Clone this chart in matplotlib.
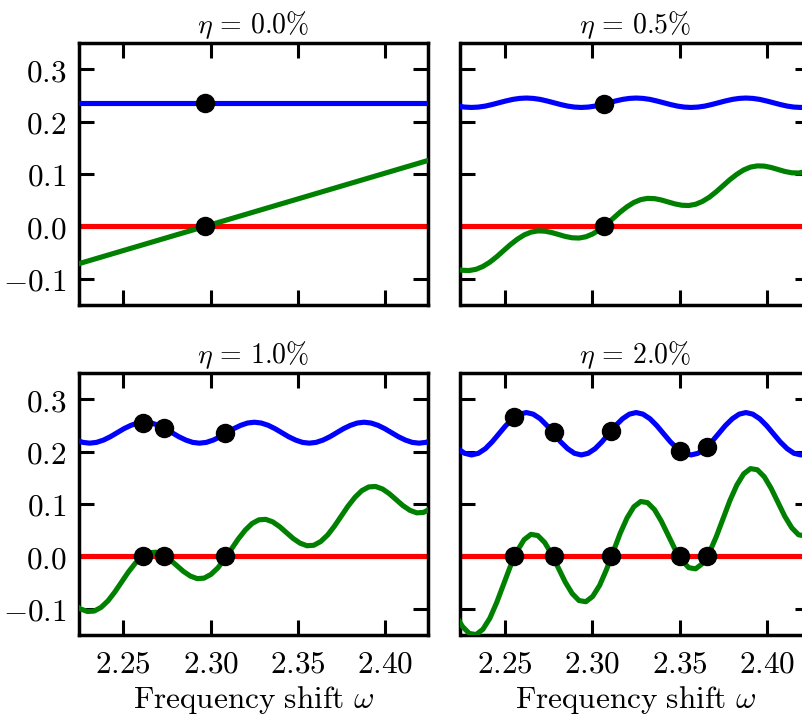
import matplotlib
matplotlib.use("Agg")
import matplotlib.pyplot as plt
from matplotlib.ticker import FuncFormatter, FixedLocator

plt.rcParams['mathtext.fontset'] = 'cm'
plt.rcParams['font.family'] = ['DejaVu Serif']

# ---------------- data ----------------
panel_titles = [r'$\eta\,=\,0.0\%$', r'$\eta\,=\,0.5\%$', r'$\eta\,=\,1.0\%$', r'$\eta\,=\,2.0\%$']
x_ticks = [2.25, 2.30, 2.35, 2.40]
y_ticks = [-0.1, 0.0, 0.1, 0.2, 0.3]
x_limits = (2.2245, 2.4245)
y_limits = (-0.15, 0.35)
x_label = r'$\mathrm{Frequency\ shift}\ \omega$'

red_level = 0.0

# eta = 0.0 %
omega_flat = [2.220, 2.430]
blue_0 = [0.236, 0.236]
green_0 = [-0.0761, 0.1315]
dots_x_0 = [2.297]
dots_blue_0 = [0.236]

# sample positions for the blue curves (eta = 0.5, 1.0, 2.0 %)
omega_blue = [2.2190, 2.2230, 2.2269, 2.2308, 2.2347, 2.2387, 2.2426, 2.2465, 2.2504, 2.2544,
              2.2583, 2.2622, 2.2661, 2.2701, 2.2740, 2.2779, 2.2818, 2.2858, 2.2897, 2.2936,
              2.2975, 2.3015, 2.3054, 2.3093, 2.3132, 2.3172, 2.3211, 2.3250, 2.3289, 2.3329,
              2.3368, 2.3407, 2.3446, 2.3486, 2.3525, 2.3564, 2.3603, 2.3643, 2.3682, 2.3721,
              2.3760, 2.3800, 2.3839, 2.3878, 2.3917, 2.3957, 2.3996, 2.4035, 2.4074, 2.4114,
              2.4153, 2.4192, 2.4231, 2.4271]

# sample positions for the green curves (eta = 0.5, 1.0, 2.0 %)
omega_green = [2.2177, 2.2216, 2.2256, 2.2295, 2.2334, 2.2373, 2.2413, 2.2452, 2.2491, 2.2530,
               2.2570, 2.2609, 2.2648, 2.2687, 2.2727, 2.2766, 2.2805, 2.2844, 2.2884, 2.2923,
               2.2962, 2.3001, 2.3041, 2.3080, 2.3119, 2.3158, 2.3198, 2.3237, 2.3276, 2.3315,
               2.3355, 2.3394, 2.3433, 2.3472, 2.3512, 2.3551, 2.3590, 2.3629, 2.3669, 2.3708,
               2.3747, 2.3786, 2.3826, 2.3865, 2.3904, 2.3943, 2.3983, 2.4022, 2.4061, 2.4100,
               2.4140, 2.4179, 2.4218, 2.4257]

# eta = 0.5 %
blue_05 = [0.2329, 0.2299, 0.2280, 0.2273, 0.2280, 0.2299, 0.2329, 0.2363, 0.2397, 0.2427,
           0.2446, 0.2453, 0.2446, 0.2427, 0.2397, 0.2363, 0.2329, 0.2299, 0.2280, 0.2273,
           0.2280, 0.2299, 0.2329, 0.2363, 0.2397, 0.2427, 0.2446, 0.2453, 0.2446, 0.2427,
           0.2397, 0.2363, 0.2329, 0.2299, 0.2280, 0.2273, 0.2280, 0.2299, 0.2329, 0.2363,
           0.2397, 0.2427, 0.2446, 0.2453, 0.2446, 0.2427, 0.2397, 0.2363, 0.2329, 0.2299,
           0.2280, 0.2273, 0.2280, 0.2299]
green_05 = [-0.0778, -0.0816, -0.0842, -0.0846, -0.0823, -0.0769, -0.0686, -0.0583, -0.0467, -0.0352,
            -0.0248, -0.0166, -0.0112, -0.0088, -0.0093, -0.0119, -0.0156, -0.0194, -0.0220, -0.0225,
            -0.0201, -0.0147, -0.0065, 0.0039, 0.0154, 0.0270, 0.0374, 0.0456, 0.0510, 0.0534,
            0.0529, 0.0503, 0.0465, 0.0428, 0.0402, 0.0397, 0.0421, 0.0475, 0.0557, 0.0661,
            0.0776, 0.0892, 0.0995, 0.1078, 0.1132, 0.1155, 0.1151, 0.1125, 0.1087, 0.1049,
            0.1023, 0.1019, 0.1043, 0.1097]
dots_x_05 = [2.3067]
dots_blue_05 = [0.234]

# eta = 1.0 %
blue_10 = [0.2283, 0.2219, 0.2175, 0.2160, 0.2175, 0.2219, 0.2283, 0.2360, 0.2437, 0.2501,
           0.2545, 0.2560, 0.2545, 0.2501, 0.2437, 0.2360, 0.2283, 0.2219, 0.2175, 0.2160,
           0.2175, 0.2219, 0.2283, 0.2360, 0.2437, 0.2501, 0.2545, 0.2560, 0.2545, 0.2501,
           0.2437, 0.2360, 0.2283, 0.2219, 0.2175, 0.2160, 0.2175, 0.2219, 0.2283, 0.2360,
           0.2437, 0.2501, 0.2545, 0.2560, 0.2545, 0.2501, 0.2437, 0.2360, 0.2283, 0.2219,
           0.2175, 0.2160, 0.2175, 0.2219]
green_10 = [-0.0803, -0.0917, -0.1007, -0.1055, -0.1046, -0.0976, -0.0850, -0.0681, -0.0489, -0.0297,
            -0.0128, -0.0002, 0.0068, 0.0077, 0.0029, -0.0061, -0.0175, -0.0289, -0.0379, -0.0427,
            -0.0418, -0.0348, -0.0222, -0.0053, 0.0139, 0.0331, 0.0500, 0.0626, 0.0696, 0.0705,
            0.0657, 0.0567, 0.0453, 0.0339, 0.0249, 0.0201, 0.0210, 0.0280, 0.0406, 0.0575,
            0.0767, 0.0959, 0.1128, 0.1254, 0.1324, 0.1333, 0.1285, 0.1195, 0.1081, 0.0967,
            0.0877, 0.0829, 0.0838, 0.0908]
dots_x_10 = [2.2611, 2.2735, 2.3083]
dots_blue_10 = [0.2553, 0.2444, 0.2348]

# eta = 2.0 %
blue_20 = [0.2185, 0.2054, 0.1966, 0.1935, 0.1966, 0.2054, 0.2185, 0.2340, 0.2495, 0.2626,
           0.2714, 0.2745, 0.2714, 0.2626, 0.2495, 0.2340, 0.2185, 0.2054, 0.1966, 0.1935,
           0.1966, 0.2054, 0.2185, 0.2340, 0.2495, 0.2626, 0.2714, 0.2745, 0.2714, 0.2626,
           0.2495, 0.2340, 0.2185, 0.2054, 0.1966, 0.1935, 0.1966, 0.2054, 0.2185, 0.2340,
           0.2495, 0.2626, 0.2714, 0.2745, 0.2714, 0.2626, 0.2495, 0.2340, 0.2185, 0.2054,
           0.1966, 0.1935, 0.1966, 0.2054]
green_20 = [-0.0853, -0.1120, -0.1340, -0.1474, -0.1496, -0.1396, -0.1183, -0.0884, -0.0539, -0.0194,
            0.0105, 0.0318, 0.0418, 0.0396, 0.0262, 0.0042, -0.0225, -0.0492, -0.0712, -0.0846,
            -0.0868, -0.0768, -0.0555, -0.0256, 0.0089, 0.0434, 0.0733, 0.0946, 0.1046, 0.1024,
            0.0890, 0.0670, 0.0403, 0.0136, -0.0084, -0.0218, -0.0240, -0.0140, 0.0073, 0.0372,
            0.0717, 0.1062, 0.1361, 0.1574, 0.1674, 0.1652, 0.1518, 0.1298, 0.1031, 0.0764,
            0.0544, 0.0410, 0.0388, 0.0488]
dots_x_20 = [2.2552, 2.2778, 2.3104, 2.3499, 2.3653]
dots_blue_20 = [0.2668, 0.2368, 0.2400, 0.2017, 0.2080]

panels = [
    (omega_flat, blue_0, omega_flat, green_0, dots_x_0, dots_blue_0),
    (omega_blue, blue_05, omega_green, green_05, dots_x_05, dots_blue_05),
    (omega_blue, blue_10, omega_green, green_10, dots_x_10, dots_blue_10),
    (omega_blue, blue_20, omega_green, green_20, dots_x_20, dots_blue_20),
]

# ---------------- figure ----------------
W, H = 803, 717
fig = plt.figure(figsize=(W / 100, H / 100), dpi=100)

def box(x0, y0, x1, y1):
    return [x0 / W, 1 - y1 / H, (x1 - x0) / W, (y1 - y0) / H]

positions = [box(78.7, 43.3, 428.3, 304.7), box(460.5, 43.3, 810.1, 304.7),
             box(78.7, 373.0, 428.3, 634.8), box(460.5, 373.0, 810.1, 634.8)]

LW = 3.7
FS = 22.5
FS_TITLE = 20
for i, (pos, title, data) in enumerate(zip(positions, panel_titles, panels)):
    ax = fig.add_axes(pos)
    xb, yb, xg, yg, dx, dy = data
    ax.axhline(red_level, color='#ff0000', lw=LW, zorder=2)
    ax.plot(xb, yb, color='#0000ff', lw=LW, zorder=3)
    ax.plot(xg, yg, color='#008000', lw=LW, zorder=4)
    ax.plot(dx, dy, 'o', color='black', ms=13, zorder=5)
    ax.plot(dx, [red_level] * len(dx), 'o', color='black', ms=13, zorder=5)
    ax.set_xlim(*x_limits)
    ax.set_ylim(*y_limits)
    ax.xaxis.set_major_locator(FixedLocator(x_ticks))
    ax.yaxis.set_major_locator(FixedLocator(y_ticks))
    ax.xaxis.set_major_formatter(FuncFormatter(lambda v, p: r'$%.2f$' % v))
    ax.yaxis.set_major_formatter(FuncFormatter(lambda v, p: r'$%.1f$' % v))
    ax.tick_params(direction='in', length=11, width=2.2, top=True, right=True,
                   labelsize=FS, color='black')
    ax.tick_params(axis='x', pad=10)
    ax.tick_params(axis='y', pad=9)
    for sp in ax.spines.values():
        sp.set_linewidth(2.5)
    ax.set_title(title, fontsize=FS_TITLE, pad=7)
    if i < 2:
        ax.tick_params(labelbottom=False)
    else:
        ax.set_xlabel(x_label, fontsize=FS, labelpad=3)
    if i % 2 == 1:
        ax.tick_params(labelleft=False)

fig.savefig('out.png', dpi=100)
